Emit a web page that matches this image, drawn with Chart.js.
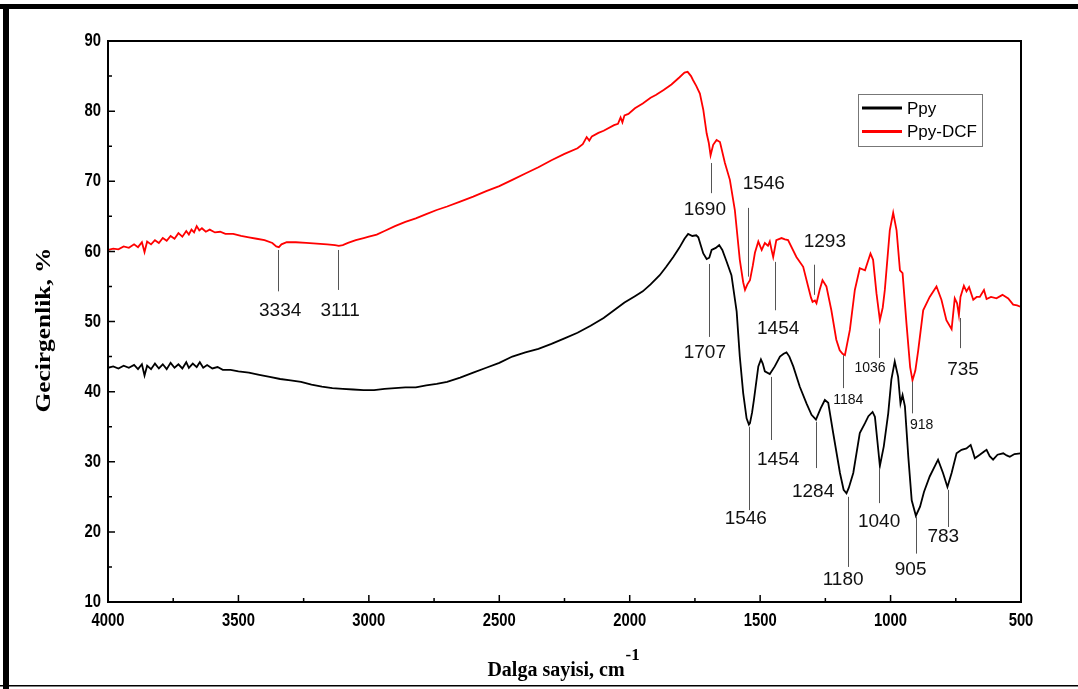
<!DOCTYPE html>
<html>
<head>
<meta charset="utf-8">
<script src="https://cdn.jsdelivr.net/npm/chart.js@4"></script>
<style>
  body { margin: 0; background: #fff; }
  #wrap { width: 1078px; height: 689px; }
</style>
</head>
<body>
<div id="wrap"><canvas id="chartCanvas" width="1078" height="689"></canvas></div>
<script>
// Ppy spectrum (black), wavenumber cm-1 / transmittance %
const ppyWave = [4000,3980,3960,3940,3920,3900,3885,3870,3860,3850,3835,3820,3805,3790,3775,3760,3745,3730,3715,3700,3690,3675,3660,3648,3635,3620,3600,3580,3560,3530,3500,3460,3420,3380,3340,3300,3260,3220,3180,3140,3100,3060,3020,2980,2940,2900,2860,2820,2780,2740,2700,2650,2600,2550,2500,2450,2400,2350,2300,2250,2200,2150,2100,2060,2020,1980,1950,1920,1885,1860,1833,1810,1790,1776,1760,1745,1737,1728,1718,1705,1695,1686,1670,1657,1645,1629,1610,1590,1578,1565,1552,1543,1539,1531,1524,1507,1497,1490,1482,1463,1444,1424,1410,1399,1388,1373,1348,1322,1303,1286,1268,1252,1239,1220,1194,1180,1169,1160,1143,1118,1098,1085,1069,1060,1051,1041,1026,1009,997,984,971,962,954,945,932,919,903,887,872,850,818,799,782,766,747,728,709,693,685,677,658,640,632,620,607,590,568,555,543,525,502];
const ppyValue = [43.4,43.6,43.3,43.7,43.4,43.8,43.2,43.9,42.3,43.7,43.2,44.0,43.3,43.9,43.2,44.1,43.4,43.9,43.3,44.2,43.4,44.0,43.5,44.2,43.4,43.8,43.3,43.5,43.1,43.1,42.9,42.7,42.4,42.1,41.8,41.6,41.4,41.0,40.7,40.5,40.4,40.3,40.2,40.2,40.4,40.5,40.6,40.6,40.9,41.1,41.4,42.0,42.7,43.4,44.1,45.0,45.6,46.1,46.8,47.6,48.4,49.4,50.5,51.6,52.7,53.6,54.3,55.3,56.6,57.8,59.2,60.5,61.8,62.5,62.2,62.3,62.0,60.9,59.7,58.9,59.1,60.2,60.5,60.9,60.2,58.6,56.6,51.4,45.0,39.8,36.2,35.3,35.5,37.0,38.8,43.6,44.6,44.0,42.9,42.5,43.6,45.0,45.4,45.6,45.0,43.6,40.7,38.3,36.7,36.0,37.6,38.8,38.4,34.1,28.4,26.0,25.5,26.3,28.4,34.1,35.5,36.5,37.1,36.4,33.1,29.4,32.2,36.9,41.7,44.3,42.1,38.3,39.5,37.9,30.7,24.5,22.3,23.6,25.7,27.9,30.3,28.4,26.4,28.4,31.2,31.7,31.9,32.4,31.5,30.5,31.0,31.5,31.7,30.8,30.3,31.0,31.2,30.9,30.7,31.1,31.2];

// Ppy-DCF spectrum (red)
const dcfWave = [4000,3980,3960,3940,3920,3900,3885,3870,3860,3850,3835,3820,3805,3790,3775,3760,3745,3730,3715,3700,3690,3680,3670,3660,3650,3640,3625,3610,3590,3570,3550,3520,3490,3460,3430,3400,3370,3355,3345,3335,3315,3280,3240,3200,3160,3130,3115,3100,3080,3050,3020,3000,2970,2940,2900,2860,2820,2780,2740,2700,2650,2600,2550,2500,2450,2400,2350,2300,2250,2200,2180,2165,2155,2145,2120,2100,2060,2045,2035,2028,2020,2005,1980,1950,1920,1900,1870,1840,1810,1790,1778,1765,1757,1745,1731,1718,1705,1697,1690,1680,1667,1654,1635,1616,1597,1578,1565,1558,1549,1539,1528,1520,1507,1494,1482,1470,1463,1455,1450,1442,1438,1418,1405,1393,1361,1335,1316,1305,1299,1290,1284,1272,1261,1246,1227,1208,1195,1184,1175,1156,1137,1118,1098,1077,1067,1054,1041,1030,1022,1003,990,977,964,954,939,925,916,905,894,875,850,824,805,786,766,754,745,738,732,719,709,699,683,670,658,642,632,615,594,571,549,530,515,502];
const dcfValue = [60.2,60.4,60.3,60.7,60.5,61.0,60.6,61.3,59.9,61.4,61.0,61.6,61.2,61.9,61.5,62.2,61.8,62.6,62.1,62.9,62.4,63.1,62.7,63.6,63.0,63.3,62.8,63.1,62.7,62.8,62.5,62.5,62.2,62.0,61.8,61.6,61.2,60.7,60.6,61.0,61.3,61.3,61.2,61.1,61.0,60.9,60.8,60.9,61.2,61.6,61.9,62.1,62.4,62.9,63.6,64.2,64.7,65.3,65.9,66.4,67.1,67.8,68.6,69.3,70.2,71.1,72.0,73.0,73.9,74.7,75.3,76.3,75.8,76.4,76.9,77.2,78.0,78.2,79.1,78.4,79.4,79.6,80.4,81.1,81.9,82.3,83.0,83.8,84.8,85.5,85.6,85.0,84.4,83.6,82.5,80.2,76.8,75.5,73.7,75.2,75.9,75.6,72.6,70.2,65.9,58.8,55.6,54.5,55.3,55.9,58.0,59.8,61.4,60.2,61.2,60.8,61.4,60.0,59.2,60.8,61.6,61.9,61.7,61.6,59.2,57.8,55.0,53.4,52.8,53.0,52.6,54.5,55.9,55.0,51.6,47.4,45.9,45.4,45.2,48.8,54.5,57.6,57.3,59.7,58.8,54.0,50.2,52.0,54.5,63.0,65.5,63.0,57.3,56.9,49.7,43.5,41.6,43.0,45.9,51.6,53.5,55.0,53.1,50.2,48.9,53.3,52.6,50.9,53.5,55.1,54.3,54.9,53.1,53.5,53.5,54.5,53.2,53.5,53.3,53.8,53.3,52.4,52.3,52.1];

const seriesNames = ['Ppy', 'Ppy-DCF'];
const xTicks = [4000, 3500, 3000, 2500, 2000, 1500, 1000, 500];
const yTicks = [10, 20, 30, 40, 50, 60, 70, 80, 90];

// peak marks: label, wavenumber of the line, line top/bottom (%), label position (cm-1, %), small text
const peakText  = ['3334','3111','1690','1546','1454','1293','1707','1546','1454','1284','1184','1180','1036','1040','918','905','783','735'];
const peakWave  = [3347,3117,1689,1548,1442,1293,1695,1542,1459,1286,1184,1165,1044,1044,916,903,779,734];
const peakTop   = [60.2,60.2,72.6,66.2,58.5,58.1,58.2,35.0,42.1,35.7,45.2,25.0,49.0,29.1,41.4,22.2,26.0,50.5];
const peakBot   = [54.3,54.5,68.3,56.4,51.6,53.8,47.8,23.1,33.1,29.1,40.5,15.0,44.8,24.1,36.9,16.9,20.7,46.2];
const labelWave = [3340,3110,1712,1486,1431,1252,1712,1555,1431,1297,1162,1182,1079,1044,881,923,798,722];
const labelVal  = [51.6,51.6,65.9,69.7,49.0,61.4,45.5,21.9,30.3,25.7,38.8,13.1,43.3,21.5,35.2,14.6,19.3,43.1];
const labelSmall = [false,false,false,false,false,false,false,false,false,false,true,false,true,false,true,false,false,false];

const toPoints = (w, v) => w.map((x, i) => ({ x: x, y: v[i] }));

// condensed bold tick text (no narrow font installed, so squeeze a normal one)
function narrowText(ctx, text, x, y, align) {
  const sx = 0.78;
  ctx.save();
  ctx.translate(x, y);
  ctx.scale(sx, 1);
  ctx.textAlign = align;
  ctx.fillText(text, 0, 0);
  ctx.restore();
}

const decorPlugin = {
  id: 'decor',
  beforeDraw(chart) {
    const ctx = chart.ctx;
    ctx.save();
    ctx.fillStyle = '#fff';
    ctx.fillRect(0, 0, chart.width, chart.height);
    ctx.restore();
  },
  afterDatasetsDraw(chart) {
    const ctx = chart.ctx;
    const a = chart.chartArea;
    const xs = chart.scales.x;
    const ys = chart.scales.y;
    ctx.save();

    // peak marks
    ctx.strokeStyle = '#555';
    ctx.lineWidth = 1;
    ctx.fillStyle = '#111';
    ctx.textAlign = 'center';
    ctx.textBaseline = 'middle';
    peakText.forEach((t, i) => {
      const px = Math.round(xs.getPixelForValue(peakWave[i])) + 0.5;
      ctx.beginPath();
      ctx.moveTo(px, ys.getPixelForValue(peakTop[i]));
      ctx.lineTo(px, ys.getPixelForValue(peakBot[i]));
      ctx.stroke();
      ctx.font = (labelSmall[i] ? '14px' : '19px') + " 'Liberation Sans', Arial, sans-serif";
      ctx.fillText(t, xs.getPixelForValue(labelWave[i]), ys.getPixelForValue(labelVal[i]));
    });

    // plot box
    ctx.strokeStyle = '#000';
    ctx.lineWidth = 2;
    ctx.strokeRect(a.left, a.top, a.right - a.left, a.bottom - a.top);

    // inward ticks
    ctx.lineWidth = 1.5;
    ctx.beginPath();
    for (let w = 4000; w >= 500; w -= 250) {
      const px = xs.getPixelForValue(w);
      const len = w % 500 === 0 ? 7 : 4;
      ctx.moveTo(px, a.bottom);
      ctx.lineTo(px, a.bottom - len);
    }
    for (let v = 10; v <= 90; v += 5) {
      const py = ys.getPixelForValue(v);
      const len = v % 10 === 0 ? 7 : 4;
      ctx.moveTo(a.left, py);
      ctx.lineTo(a.left + len, py);
    }
    ctx.stroke();

    // tick labels
    ctx.fillStyle = '#000';
    ctx.font = "bold 19px 'Liberation Sans', Arial, sans-serif";
    ctx.textBaseline = 'middle';
    xTicks.forEach(v => narrowText(ctx, String(v), xs.getPixelForValue(v), a.bottom + 19, 'center'));
    yTicks.forEach(v => narrowText(ctx, String(v), a.left - 7, ys.getPixelForValue(v), 'right'));

    // legend
    const lx = 858, ly = 94;
    ctx.fillStyle = '#fff';
    ctx.fillRect(lx, ly, 124, 52);
    ctx.strokeStyle = '#777';
    ctx.lineWidth = 1;
    ctx.strokeRect(lx + 0.5, ly + 0.5, 124, 52);
    ctx.font = "17px 'Liberation Sans', Arial, sans-serif";
    ctx.textAlign = 'left';
    chart.data.datasets.forEach((ds, i) => {
      const yy = ly + 14 + i * 23.5;
      ctx.strokeStyle = ds.borderColor;
      ctx.lineWidth = 3;
      ctx.beginPath();
      ctx.moveTo(lx + 4, yy);
      ctx.lineTo(lx + 44, yy);
      ctx.stroke();
      ctx.fillStyle = '#000';
      ctx.fillText(ds.label, lx + 49, yy + 1);
    });

    // axis titles
    ctx.fillStyle = '#000';
    ctx.font = "bold 21px 'Liberation Serif', 'Times New Roman', serif";
    ctx.textAlign = 'center';
    ctx.textBaseline = 'middle';
    ctx.save();
    ctx.translate(45, 330);
    ctx.rotate(-Math.PI / 2);
    const yt = 'Gecirgenlik, %';
    const sy = 165 / ctx.measureText(yt).width;
    ctx.scale(sy, 1);
    ctx.fillText(yt, 0, 0);
    ctx.restore();

    const xt = 'Dalga sayisi, cm';
    ctx.font = "bold 20px 'Liberation Serif', 'Times New Roman', serif";
    ctx.textAlign = 'left';
    ctx.textBaseline = 'alphabetic';
    const xw = ctx.measureText(xt).width;
    const x0 = 556 - xw / 2;
    ctx.fillText(xt, x0, 676);
    ctx.font = "bold 17px 'Liberation Serif', 'Times New Roman', serif";
    ctx.fillText('-1', x0 + xw + 1, 660);

    // outer frame
    ctx.fillStyle = '#000';
    ctx.fillRect(0, 4, chart.width, 5);
    ctx.fillRect(3, 4, 6, chart.height - 4);
    ctx.fillRect(0, 685, chart.width, 1.5);
    ctx.restore();
  }
};

const myChart = new Chart(document.getElementById('chartCanvas'), {
  type: 'line',
  data: {
    datasets: [
      { label: seriesNames[0], data: toPoints(ppyWave, ppyValue), borderColor: '#000000', borderWidth: 1.8, pointRadius: 0, tension: 0 },
      { label: seriesNames[1], data: toPoints(dcfWave, dcfValue), borderColor: '#ff0000', borderWidth: 1.8, pointRadius: 0, tension: 0 }
    ]
  },
  options: {
    responsive: false,
    animation: false,
    layout: { padding: { top: 41, right: 57, left: 0, bottom: 0 } },
    plugins: { legend: { display: false }, tooltip: { enabled: false } },
    scales: {
      x: {
        type: 'linear', reverse: true, min: 500, max: 4000,
        afterBuildTicks: s => { s.ticks = xTicks.map(v => ({ value: v })); },
        afterFit: s => { s.height = 87; },
        ticks: { display: false },
        grid: { display: false, drawTicks: false },
        border: { display: false }
      },
      y: {
        min: 10, max: 90,
        afterBuildTicks: s => { s.ticks = yTicks.map(v => ({ value: v })); },
        afterFit: s => { s.width = 108; },
        ticks: { display: false },
        grid: { display: false, drawTicks: false },
        border: { display: false }
      }
    }
  },
  plugins: [decorPlugin]
});
</script>
</body>
</html>
